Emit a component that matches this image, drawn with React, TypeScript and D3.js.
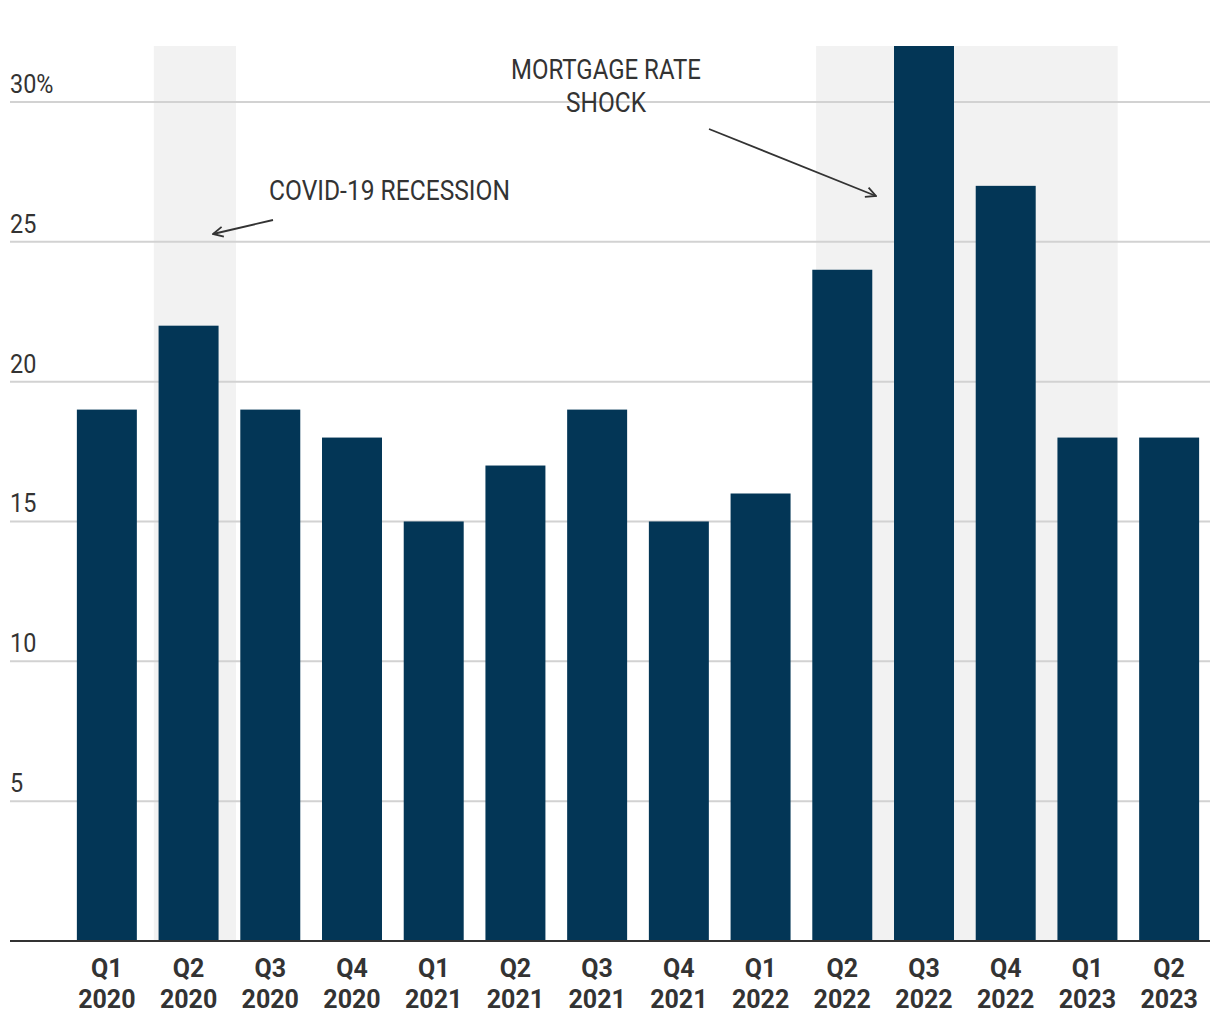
import React from "react";
import * as d3 from "d3";

const quarters = ["Q1", "Q2", "Q3", "Q4", "Q1", "Q2", "Q3", "Q4", "Q1", "Q2", "Q3", "Q4", "Q1", "Q2"];
const years = ["2020", "2020", "2020", "2020", "2021", "2021", "2021", "2021", "2022", "2022", "2022", "2022", "2023", "2023"];
const values = [19, 22, 19, 18, 15, 17, 19, 15, 16, 24, 32, 27, 18, 18];
const yTicks = [5, 10, 15, 20, 25, 30];
// shaded periods in fractional bar-index units
const shadeStarts = [0.575, 8.68];
const shadeEnds = [1.58, 12.37];

const W = 1220;
const H = 1020;
const left = 66;
const right = 1210;
const top = 46;
const bottom = 941;

export default function App() {
  const cats = values.map((_, i) => String(i));
  const x = d3.scaleBand<string>().domain(cats).range([left, right]).paddingInner(0.266).paddingOuter(0.133);
  const y = d3.scaleLinear().domain([0, 32]).range([bottom, top]);
  const center = (i: number) => (x(String(i)) as number) + x.bandwidth() / 2;
  const idx = d3.scaleLinear().domain([0, 1]).range([center(0), center(1)]);
  const font = "Roboto, 'Noto Sans', sans-serif";
  const textColor = "#333333";

  return (
    <svg width={W} height={H} style={{ position: "absolute", left: 0, top: 0, background: "#fff" }}>
      <defs>
        <marker id="arr" viewBox="0 0 12 12" refX="11" refY="6" markerWidth="12" markerHeight="12" orient="auto" markerUnits="userSpaceOnUse">
          <path d="M1,1 L11,6 L1,11" fill="none" stroke="#333" strokeWidth={1.8} />
        </marker>
      </defs>
      {shadeStarts.map((s, i) => (
        <rect key={"s" + i} x={idx(s)} y={top} width={idx(shadeEnds[i]) - idx(s)} height={bottom - top} fill="#f2f2f2" />
      ))}
      {yTicks.map((t) => (
        <g key={"g" + t}>
          <line x1={10} x2={right} y1={y(t)} y2={y(t)} stroke="#d2d2d2" strokeWidth={2} />
          <text x={10} y={y(t) - 9} fontFamily={font} fontSize={26} fill={textColor} transform={`translate(10,0) scale(0.9,1) translate(-10,0)`}>
            {t === 30 ? "30%" : String(t)}
          </text>
        </g>
      ))}
      {values.map((v, i) => (
        <rect key={"b" + i} x={x(String(i))} y={y(v)} width={x.bandwidth()} height={bottom - y(v)} fill="#033656" />
      ))}
      <line x1={10} x2={right} y1={bottom} y2={bottom} stroke="#333" strokeWidth={2} />
      {values.map((_, i) => (
        <g key={"l" + i}>
          <text x={center(i)} y={977} textAnchor="middle" fontFamily={font} fontWeight="bold" fontSize={25} fill={textColor}>
            {quarters[i]}
          </text>
          <text x={center(i)} y={1008} textAnchor="middle" fontFamily={font} fontWeight="bold" fontSize={25} fill={textColor}>
            {years[i]}
          </text>
        </g>
      ))}
      <text x={269} y={200} fontFamily={font} fontSize={27} fill={textColor} textLength={241} lengthAdjust="spacingAndGlyphs">
        COVID-19 RECESSION
      </text>
      <line x1={273} y1={220} x2={213} y2={234} stroke="#333" strokeWidth={1.8} markerEnd="url(#arr)" />
      <text x={511} y={79} fontFamily={font} fontSize={27} fill={textColor} textLength={190} lengthAdjust="spacingAndGlyphs">
        MORTGAGE RATE
      </text>
      <text x={566} y={112} fontFamily={font} fontSize={27} fill={textColor} textLength={80} lengthAdjust="spacingAndGlyphs">
        SHOCK
      </text>
      <line x1={709} y1={129} x2={876} y2={196} stroke="#333" strokeWidth={1.8} markerEnd="url(#arr)" />
    </svg>
  );
}
